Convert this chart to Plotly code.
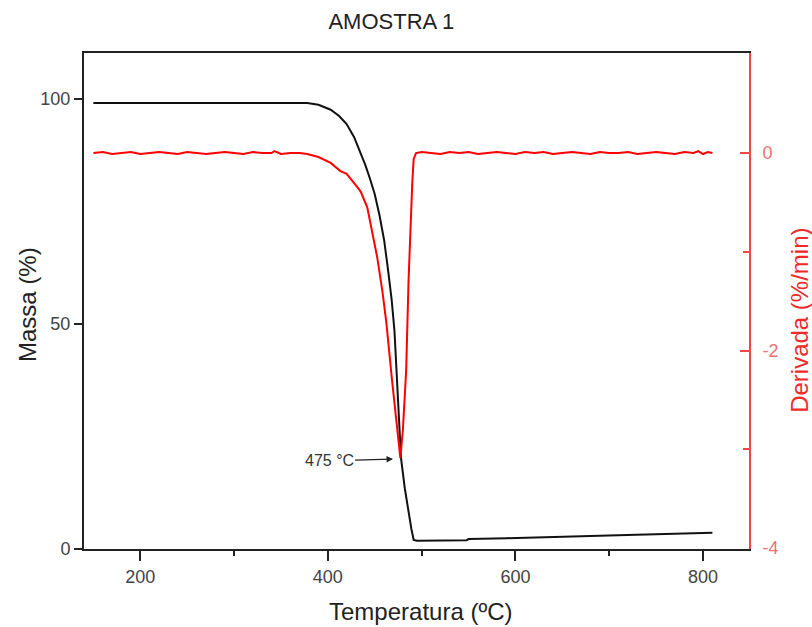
import plotly.graph_objects as go

# ---- data ----
temp_mass = [150, 200, 250, 300, 350, 378, 390, 403, 412, 420, 428, 435, 440, 445, 450,
             455, 460, 464, 468, 471, 474, 478, 482, 486, 489, 491.5, 495, 548, 550,
             591, 634, 680, 719, 758, 790, 810]
mass = [99.1, 99.1, 99.1, 99.1, 99.1, 99.1, 98.7, 97.6, 96.2, 94.4, 91.5, 87.9, 85.3, 82.2, 78.8,
        74.2, 68.6, 62.3, 55.4, 48.5, 37.5, 20.2, 13.5, 7.9, 4.5, 2.0, 1.85, 1.95, 2.2,
        2.4, 2.7, 2.9, 3.1, 3.3, 3.4, 3.6]

temp_deriv = [150, 160, 170, 180, 190, 200, 210, 220, 230, 240, 250, 260, 270, 280, 290,
              300, 310, 320, 330, 340, 343, 350, 360, 370, 378, 390, 396, 403, 413, 420,
              431, 435, 442, 447, 452.5, 458, 462.4, 468.4, 472, 477.3, 480, 483.5, 486,
              488, 490, 491.5, 494, 500, 510, 520, 530, 540, 550, 560, 570, 580, 590, 600,
              610, 620, 630, 640, 650, 660, 670, 680, 690, 700, 710, 720, 730, 740, 750,
              760, 770, 780, 790, 795, 800, 805, 810]
deriv = [0.0, 0.01, -0.01, 0.0, 0.01, -0.01, 0.0, 0.01, 0.0, -0.01, 0.01, 0.0, -0.01, 0.0, 0.01,
         0.0, -0.01, 0.01, 0.0, 0.0, 0.02, -0.01, 0.0, 0.0, -0.01, -0.04, -0.07, -0.10, -0.18, -0.21,
         -0.34, -0.39, -0.55, -0.78, -1.05, -1.39, -1.72, -2.30, -2.62, -3.09, -2.80, -2.20, -1.30,
         -0.71, -0.30, -0.06, 0.0, 0.01, 0.0, -0.01, 0.01, 0.0, 0.01, -0.01, 0.0, 0.01, 0.0, -0.01,
         0.01, 0.0, 0.01, -0.01, 0.0, 0.01, 0.0, -0.01, 0.01, 0.0, 0.0, 0.01, -0.01, 0.0, 0.01,
         0.0, -0.01, 0.01, 0.0, 0.02, -0.01, 0.01, 0.0]

peak_T = 475
peak_label = "475 °C"

title = "AMOSTRA 1"
x_title = "Temperatura (ºC)"
y_title = "Massa (%)"
y2_title = "Derivada (%/min)"

x_ticks = [200, 400, 600, 800]
y_ticks = [0, 50, 100]
y2_ticks = [-4, -2, 0]
y2_ticktext = ["-4", "-2", "0"]

FONT = "Liberation Sans, Arial, sans-serif"
RED_AX = "#f04848"

fig = go.Figure()
fig.add_trace(go.Scatter(x=temp_mass, y=mass, mode="lines",
                         line=dict(color="#111111", width=2), yaxis="y", showlegend=False))
fig.add_trace(go.Scatter(x=temp_deriv, y=deriv, mode="lines",
                         line=dict(color="#ff0000", width=2), yaxis="y2", showlegend=False))

fig.add_annotation(x=peak_T - 5.5, y=20, xref="x", yref="y", text=peak_label,
                   showarrow=True, arrowhead=2, arrowsize=1, arrowwidth=1.3, arrowcolor="#222",
                   ax=-64, ay=2, font=dict(family=FONT, size=16, color="#333"))

# axis titles as annotations for precise placement
fig.add_annotation(x=0.5066, y=-0.125, xref="paper", yref="paper", text=x_title,
                   showarrow=False, xanchor="center", yanchor="middle",
                   font=dict(family=FONT, size=24, color="#222"))
fig.add_annotation(x=-0.0842, y=0.492, xref="paper", yref="paper", text=y_title,
                   showarrow=False, xanchor="center", yanchor="middle", textangle=-90,
                   font=dict(family=FONT, size=24, color="#222"))
fig.add_annotation(x=1.0767, y=0.46, xref="paper", yref="paper", text=y2_title,
                   showarrow=False, xanchor="center", yanchor="middle", textangle=-90,
                   font=dict(family=FONT, size=24, color="#ee2a2a"))

fig.update_layout(
    width=812, height=627,
    margin=dict(l=84, r=63, t=53, b=78),
    paper_bgcolor="white", plot_bgcolor="white",
    font=dict(family=FONT, color="#333"),
    title=dict(text=title, x=0.482, xref="container", y=0.966, yref="container",
               xanchor="center", yanchor="middle", font=dict(size=22, color="#222")),
    xaxis=dict(range=[140, 849], tickvals=x_ticks, showgrid=False, zeroline=False,
               showline=True, linecolor="#222", linewidth=2, mirror=True,
               ticks="outside", ticklen=10, tickwidth=2, tickcolor="#222",
               minor=dict(ticks="outside", ticklen=5, tickwidth=2, tickcolor="#222",
                          tickvals=[300, 500, 700]),
               tickfont=dict(size=18, color="#444")),
    yaxis=dict(range=[0, 110.2], tickvals=y_ticks, showgrid=False, zeroline=False,
               showline=True, linecolor="#222", linewidth=2,
               ticks="outside", ticklen=8, tickwidth=2, tickcolor="#222",
               tickfont=dict(size=18, color="#444")),
    yaxis2=dict(range=[-4.01, 1.013], tickvals=y2_ticks, ticktext=y2_ticktext,
                overlaying="y", side="right",
                showgrid=False, zeroline=False,
                showline=True, linecolor=RED_AX, linewidth=2,
                ticks="inside", ticklen=9, tickwidth=2, tickcolor=RED_AX,
                minor=dict(ticks="inside", ticklen=6, tickwidth=2, tickcolor=RED_AX,
                           tickvals=[-3, -1]),
                ticklabelstandoff=8,
                tickfont=dict(size=18, color="#f07070")),
)

fig.write_html("out.html")
